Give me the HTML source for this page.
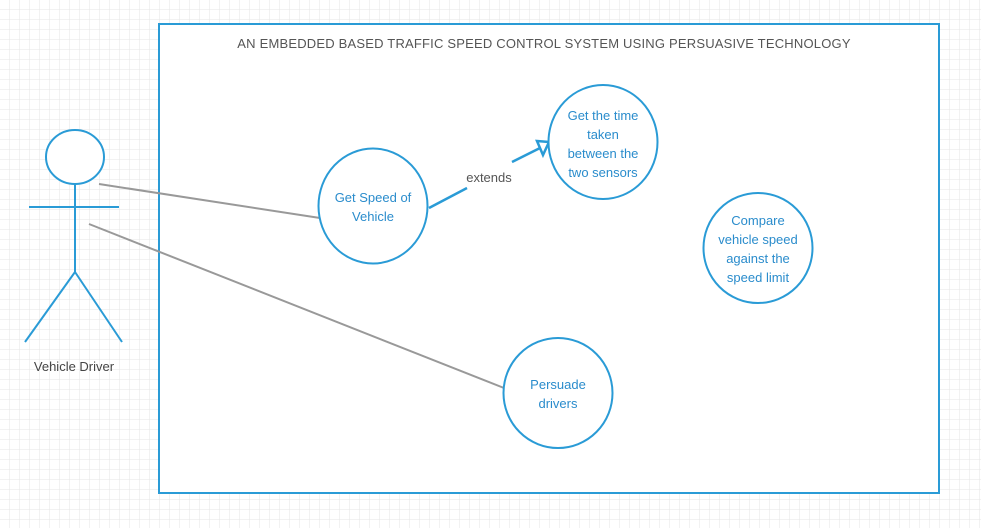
<!DOCTYPE html>
<html><head><meta charset="utf-8"><style>
html,body{margin:0;padding:0;background:#fff}
svg{display:block}
text{font-family:"Liberation Sans",sans-serif}
</style></head><body>
<svg width="981" height="528" xmlns="http://www.w3.org/2000/svg">
<defs>
<pattern id="g" width="10" height="10" patternUnits="userSpaceOnUse" x="-0.5" y="-0.5">
<path d="M10 0V10M0 10H10" stroke="#e6e6e6" stroke-width="1" fill="none"/>
</pattern>
</defs>
<rect width="981" height="528" fill="url(#g)"/>
<rect x="159" y="24" width="780" height="469" fill="#fff" stroke="#2a9bd6" stroke-width="2"/>
<text x="544" y="48" text-anchor="middle" font-size="13" fill="#555" letter-spacing="0.2">AN EMBEDDED BASED TRAFFIC SPEED CONTROL SYSTEM USING PERSUASIVE TECHNOLOGY</text>
<g stroke="#2a9bd6" stroke-width="2" fill="none">
<ellipse cx="75" cy="157" rx="29" ry="27" fill="#fff"/>
<line x1="75" y1="184" x2="75" y2="272"/>
<line x1="29" y1="207" x2="119" y2="207"/>
<line x1="75" y1="272" x2="25" y2="342"/>
<line x1="75" y1="272" x2="122" y2="342"/>
</g>
<text x="74" y="371" text-anchor="middle" font-size="13" fill="#444">Vehicle Driver</text>
<g stroke="#999" stroke-width="2">
<line x1="99" y1="184" x2="320" y2="218"/>
<line x1="89" y1="224" x2="504" y2="388"/>
</g>
<g stroke="#2a9bd6" stroke-width="2.5" fill="none">
<line x1="429" y1="208" x2="467" y2="188"/>
<line x1="512" y1="162" x2="540" y2="148"/>
<path d="M537 141 L549 142 L543 155 Z" fill="#fff"/>
</g>
<text x="489" y="182" text-anchor="middle" font-size="13" fill="#555">extends</text>
<g stroke="#2a9bd6" stroke-width="2" fill="#fff">
<ellipse cx="373" cy="206" rx="54.5" ry="57.5"/>
<ellipse cx="603" cy="142" rx="54.5" ry="57"/>
<ellipse cx="758" cy="248" rx="54.5" ry="55"/>
<ellipse cx="558" cy="393" rx="54.5" ry="55"/>
</g>
<g font-size="13" fill="#2a8ccc" text-anchor="middle">
<text x="373" y="202">Get Speed of</text><text x="373" y="221">Vehicle</text>
<text x="603" y="120">Get the time</text><text x="603" y="139">taken</text><text x="603" y="158">between the</text><text x="603" y="177">two sensors</text>
<text x="758" y="225">Compare</text><text x="758" y="244">vehicle speed</text><text x="758" y="263">against the</text><text x="758" y="282">speed limit</text>
<text x="558" y="389">Persuade</text><text x="558" y="408">drivers</text>
</g>
</svg>
</body></html>
